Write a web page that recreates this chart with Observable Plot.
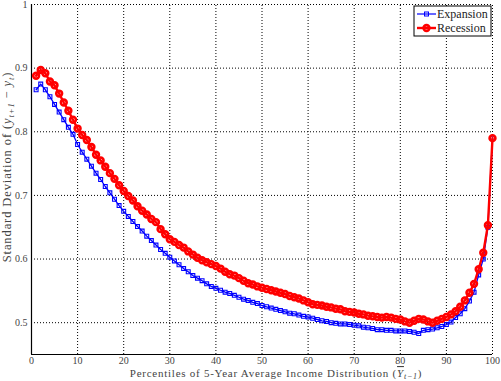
<!DOCTYPE html>
<html>
<head>
<meta charset="utf-8">
<script src="https://cdn.jsdelivr.net/npm/d3@7"></script>
<script src="https://cdn.jsdelivr.net/npm/@observablehq/plot@0.6"></script>
<style>
  body { margin: 0; background: #fff; }
</style>
</head>
<body>
<div id="chart"></div>
<script>
const percentiles = d3.range(1, 101);
const expansion = [
  0.866, 0.875, 0.866, 0.855, 0.843, 0.831, 0.819, 0.807, 0.796, 0.780,
  0.768, 0.757, 0.746, 0.735, 0.725, 0.714, 0.704, 0.694, 0.684, 0.675,
  0.667, 0.659, 0.651, 0.644, 0.636, 0.629, 0.622, 0.615, 0.609, 0.603,
  0.597, 0.591, 0.585, 0.580, 0.574, 0.570, 0.566, 0.561, 0.557, 0.554,
  0.551, 0.548, 0.546, 0.543, 0.540, 0.537, 0.535, 0.532, 0.530, 0.527,
  0.525, 0.523, 0.521, 0.519, 0.517, 0.515, 0.514, 0.512, 0.510, 0.509,
  0.507, 0.505, 0.503, 0.502, 0.500, 0.499, 0.498, 0.498, 0.497, 0.496,
  0.495, 0.493, 0.492, 0.491, 0.489, 0.489, 0.488, 0.488, 0.487, 0.487,
  0.487, 0.486, 0.485, 0.483, 0.488, 0.489, 0.490, 0.492, 0.494, 0.497,
  0.501, 0.508, 0.514, 0.522, 0.534, 0.548, 0.575, 0.600, 0.650, 0.790
];
const recession = [
  0.888, 0.897, 0.892, 0.879, 0.873, 0.860, 0.846, 0.833, 0.819, 0.805,
  0.795, 0.787, 0.776, 0.764, 0.755, 0.745, 0.735, 0.726, 0.716, 0.707,
  0.699, 0.692, 0.683, 0.676, 0.670, 0.663, 0.658, 0.647, 0.639, 0.631,
  0.627, 0.622, 0.618, 0.612, 0.607, 0.602, 0.598, 0.595, 0.592, 0.589,
  0.585, 0.580, 0.576, 0.574, 0.570, 0.566, 0.562, 0.560, 0.557, 0.555,
  0.553, 0.551, 0.549, 0.547, 0.545, 0.542, 0.540, 0.538, 0.535, 0.532,
  0.529, 0.528, 0.527, 0.525, 0.524, 0.522, 0.521, 0.518, 0.517, 0.516,
  0.514, 0.513, 0.511, 0.510, 0.509, 0.508, 0.509, 0.508, 0.506, 0.505,
  0.502, 0.500, 0.503, 0.506, 0.505, 0.502, 0.500, 0.503, 0.506, 0.509,
  0.513, 0.518, 0.525, 0.535, 0.547, 0.561, 0.584, 0.610, 0.653, 0.790
];
const xTicks = [0, 10, 20, 30, 40, 50, 60, 70, 80, 90, 100];
const yTicks = [0.5, 0.6, 0.7, 0.8, 0.9, 1];
const seriesNames = ["Expansion", "Recession"];
const seriesColors = ["#0000ff", "#ff0000"];

const expData = percentiles.map((p, i) => ({x: p, y: expansion[i]}));
const recData = percentiles.map((p, i) => ({x: p, y: recession[i]}));

const FONT = "Liberation Serif, DejaVu Serif, serif";

const plot = Plot.plot({
  width: 501,
  height: 381,
  marginLeft: 31,
  marginRight: 9,
  marginTop: 4,
  marginBottom: 27,
  style: {fontFamily: FONT, fontSize: "10px", background: "#fff"},
  x: {domain: [0, 100], ticks: xTicks, label: null},
  y: {domain: [0.45, 1], ticks: yTicks, label: null},
  marks: [
    Plot.ruleX(xTicks.filter(d => d > 0), {stroke: "#000", strokeDasharray: "1,2", strokeWidth: 1, y1: 0.45, y2: 1}),
    Plot.ruleY(yTicks, {stroke: "#000", strokeDasharray: "1,2", strokeWidth: 1, x1: 0, x2: 100}),
    Plot.axisX({ticks: xTicks, tickSize: 0, tickPadding: 2, label: null, tickFormat: d => String(d), fill: "#444"}),
    Plot.axisY({ticks: yTicks, tickSize: 0, tickPadding: 4, label: null, tickFormat: d => String(d), fill: "#444"}),
    Plot.ruleX([0], {stroke: "#000", strokeWidth: 1.2}),
    Plot.ruleY([0.45], {stroke: "#000", strokeWidth: 1.2}),
    Plot.line(expData, {x: "x", y: "y", stroke: seriesColors[0], strokeWidth: 1.3}),
    Plot.dot(expData, {x: "x", y: "y", symbol: "square", r: 2.2, stroke: seriesColors[0], fill: "none", strokeWidth: 1.1}),
    Plot.line(recData, {x: "x", y: "y", stroke: seriesColors[1], strokeWidth: 2.4}),
    Plot.dot(recData, {x: "x", y: "y", r: 2.9, stroke: seriesColors[1], fill: "none", strokeWidth: 2.6})
  ]
});

document.getElementById("chart").appendChild(plot);

// axis titles with subscripts, and legend
const svg = d3.select(plot);
const yT = svg.append("text")
  .attr("transform", "translate(11,167) rotate(-90)")
  .attr("text-anchor", "middle")
  .attr("font-family", FONT)
  .attr("font-size", 12.5)
  .attr("letter-spacing", 0.9)
  .attr("fill", "#444");
yT.append("tspan").text("Standard Deviation of (");
yT.append("tspan").attr("font-style", "italic").text("y");
yT.append("tspan").attr("font-size", 8.5).attr("font-style", "italic").attr("dy", 3).text("t+1");
yT.append("tspan").attr("dy", -3).text(" − ");
yT.append("tspan").attr("font-style", "italic").text("y");
yT.append("tspan").attr("font-size", 8.5).attr("font-style", "italic").attr("dy", 3).text("t");
yT.append("tspan").attr("dy", -3).text(")");

const xT = svg.append("text")
  .attr("x", 276)
  .attr("y", 377)
  .attr("text-anchor", "middle")
  .attr("font-family", FONT)
  .attr("font-size", 11)
  .attr("letter-spacing", 0.75)
  .attr("fill", "#444");
xT.append("tspan").text("Percentiles of 5-Year Average Income Distribution (");
xT.append("tspan").attr("font-style", "italic").attr("text-decoration", "overline").text("Y");
xT.append("tspan").attr("font-size", 8).attr("font-style", "italic").attr("dy", 2).text("t−1");
xT.append("tspan").attr("dy", -2).text(")");

const lg = svg.append("g").attr("transform", "translate(414,6)");
lg.append("rect").attr("width", 77).attr("height", 30).attr("fill", "#fff").attr("stroke", "#000").attr("stroke-width", 1);
seriesNames.forEach((name, i) => {
  const yy = 8 + i * 14;
  lg.append("line").attr("x1", 3).attr("x2", 22).attr("y1", yy).attr("y2", yy)
    .attr("stroke", seriesColors[i]).attr("stroke-width", i ? 2.4 : 1.2);
  if (i === 0) {
    lg.append("rect").attr("x", 10.5).attr("y", yy - 2).attr("width", 4).attr("height", 4)
      .attr("fill", "none").attr("stroke", seriesColors[i]).attr("stroke-width", 1);
  } else {
    lg.append("circle").attr("cx", 12.5).attr("cy", yy).attr("r", 2.9)
      .attr("fill", "none").attr("stroke", seriesColors[i]).attr("stroke-width", 2.6);
  }
  lg.append("text").attr("x", 23).attr("y", yy + 4)
    .attr("text-anchor", "start")
    .attr("font-family", FONT)
    .attr("font-size", 12).attr("fill", "#222").text(name);
});
</script>
</body>
</html>
